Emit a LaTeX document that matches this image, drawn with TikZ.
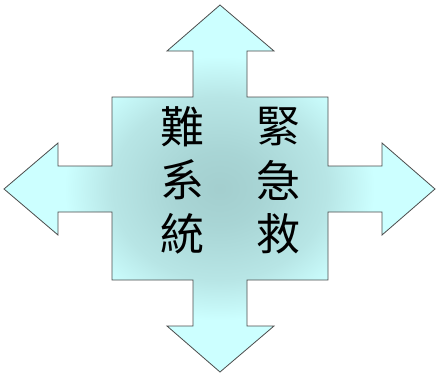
\documentclass[tikz,border=0pt]{standalone}
\usepackage{fontspec}
\newfontfamily\cjk{Noto Sans CJK TC}
\pgfdeclareradialshading{myrad}{\pgfpoint{0bp}{0bp}}{rgb(0bp)=(0.64,0.81,0.81); rgb(5bp)=(0.66,0.835,0.835); rgb(12.5bp)=(0.72,0.9,0.9); rgb(18bp)=(0.8,1,1); rgb(50bp)=(0.8,1,1)}
\tikzset{
  arrowshape/.style={draw=black!70, line width=0.8pt, line join=miter, shading=myrad},
  glyph/.style={font=\cjk\fontsize{44}{44}\selectfont, inner sep=0pt, text=black}
}
\begin{document}
\begin{tikzpicture}[x=1pt,y=-1pt]
\useasboundingbox (0,0) rectangle (436,375);
\path[arrowshape] (220,5) -- (274,51) -- (247,51) -- (247,97) -- (328,97) -- (328,166) -- (382,166) -- (382,143) -- (435,189) -- (382,235) -- (382,212) -- (328,212) -- (328,280) -- (247,280) -- (247,326) -- (274,326) -- (220,372) -- (167,326) -- (193,326) -- (193,280) -- (112,280) -- (112,212) -- (58,212) -- (58,235) -- (4,189) -- (58,143) -- (58,166) -- (112,166) -- (112,97) -- (193,97) -- (193,51) -- (167,51) -- cycle;
\node[glyph] (c1) at (278,127) {緊};
\node[glyph] (c2) at (278,180) {急};
\node[glyph] (c3) at (278,234) {救};
\node[glyph] (c4) at (182,127) {難};
\node[glyph] (c5) at (182,180) {系};
\node[glyph] (c6) at (182,234) {統};
\end{tikzpicture}
\end{document}
